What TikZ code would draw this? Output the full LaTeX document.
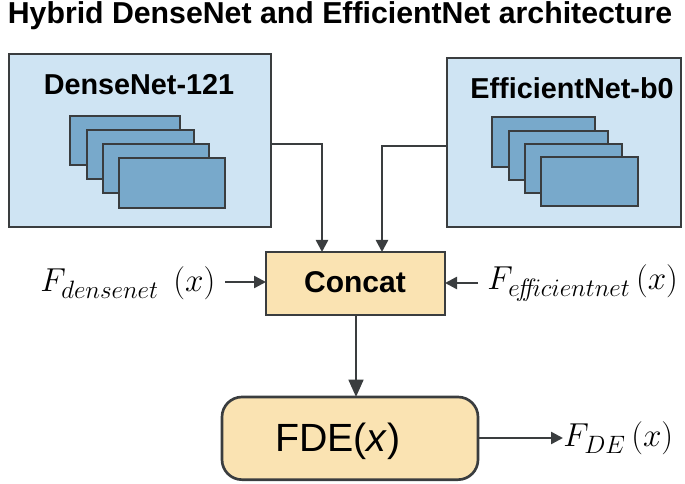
\documentclass[tikz,border=0pt]{standalone}
\usepackage{fontspec}
\setmainfont{Liberation Sans}
\usetikzlibrary{arrows.meta}
\definecolor{edge}{HTML}{3A3D3F}
\definecolor{panel}{HTML}{CFE4F3}
\definecolor{layer}{HTML}{78A9CB}
\definecolor{cream}{HTML}{FAE3B2}
\tikzset{
  x=0.75pt,y=-0.75pt,
  box/.style={draw=edge,line width=2pt,inner sep=0pt,outer sep=0pt},
  panelbox/.style={box,fill=panel},
  layerbox/.style={box,fill=layer,line width=2pt},
  creambox/.style={box,fill=cream},
  link/.style={draw=edge,line width=1.9pt,-{Triangle[length=9pt,width=9pt]}},
  biglink/.style={draw=edge,line width=2pt,-{Triangle[length=13pt,width=11pt]}},
  boxlabel/.style={font=\bfseries\fontsize{21.6}{24}\selectfont,inner sep=0pt,text=black},
  mathlabel/.style={inner sep=0pt,text=black,font=\fontsize{25}{28}\selectfont},
}
\newcommand{\boxat}[6]{\node[#2,minimum width=#5*0.75pt-#3*0.75pt,minimum height=#6*0.75pt-#4*0.75pt,anchor=north west] (#1) at (#3,#4) {};}
\newcommand{\bigsub}[1]{\raisebox{-2pt}{\scalebox{1.09}{$\scriptstyle #1$}}}
\begin{document}
\begin{tikzpicture}
\useasboundingbox (0,0) rectangle (685,484);
\node[font=\bfseries\fontsize{22.7}{25}\selectfont,inner sep=0pt,text=black] (title) at (340,16) {Hybrid DenseNet and EfficientNet architecture};
% left panel
\boxat{dense}{panelbox}{9}{54}{271}{227}
\node[boxlabel] (denselabel) at (139,85) {DenseNet-121};
\boxat{da}{layerbox}{70}{116}{180}{165}
\boxat{db}{layerbox}{87}{130}{194}{179}
\boxat{dc}{layerbox}{103}{144}{209}{193}
\boxat{dd}{layerbox}{119}{158}{225}{208}
% right panel
\boxat{eff}{panelbox}{447}{58}{681}{227}
\node[boxlabel] (efflabel) at (572,88) {EfficientNet-b0};
\boxat{ea}{layerbox}{492}{117}{595}{167}
\boxat{eb}{layerbox}{509}{131}{608}{180}
\boxat{ec}{layerbox}{525}{144}{622}{193}
\boxat{ed}{layerbox}{541}{157}{638}{206}
% concat and FDE
\boxat{concat}{creambox}{266}{252}{445}{315}
\node[boxlabel,font=\bfseries\fontsize{22.5}{24}\selectfont] (concatlabel) at (355,282) {Concat};
\node[creambox,rounded corners=15pt,minimum width=192pt,minimum height=62pt,anchor=north west] (fde) at (222,397) {};
\node[inner sep=0pt,font=\fontsize{29.5}{32}\selectfont,text=black] (fdelabel) at (338,441) {FDE(\textit{x})};
% math labels
\node[mathlabel,anchor=west] (fdense) at (40,283) {$F_{\bigsub{densenet}}\;\,(x)$};
\node[mathlabel,anchor=west] (feff) at (487,283) {$F_{\bigsub{e\!f\!\!f\!icientnet}}\,(x)$};
\node[mathlabel,anchor=west] (fdeout) at (563,438) {$F_{\bigsub{DE}}\,(x)$};
% connectors
\coordinate (dj) at (322,144);
\coordinate (ej) at (382,146);
\coordinate (dl) at (225,282);
\coordinate (el) at (478,283);
\coordinate (fo) at (478,438);
\draw[link] (dense.east |- dj) -- (dj) -- (dj |- concat.north);
\draw[link] (eff.west |- ej) -- (ej) -- (ej |- concat.north);
\draw[link] (dl) -- (concat.west |- dl);
\draw[link] (el) -- (concat.east |- el);
\draw[biglink] (concat.south -| 356,0) -- (356,397);
\draw[link] (fo) -- (fdeout.west |- fo);
\end{tikzpicture}
\end{document}
